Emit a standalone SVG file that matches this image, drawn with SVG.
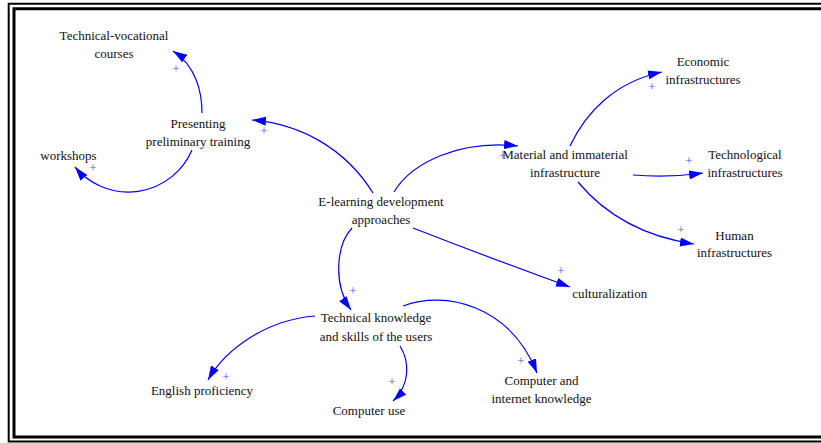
<svg xmlns="http://www.w3.org/2000/svg" width="821" height="443" viewBox="0 0 821 443">
<style>
.t{font-family:"Liberation Serif","Times New Roman",serif;font-size:13px;fill:#111;text-anchor:middle}
.p{font-family:"Liberation Serif","Times New Roman",serif;font-size:13px;fill:#4a4aff;text-anchor:middle}
.c{fill:none;stroke:#0000ff;stroke-width:1.2;marker-end:url(#ah)}
.f{fill:none;stroke:#000}
</style>
<defs>
<marker id="ah" markerUnits="userSpaceOnUse" markerWidth="15" markerHeight="10" refX="14" refY="4.5" orient="auto" viewBox="0 0 15 10">
<path d="M0,0 L14,4.5 L0,9 z" fill="#0000ff"/>
</marker>
</defs>
<rect width="821" height="443" fill="#fff"/>
<g id="frame">
<path class="f" stroke-width="2" d="M821,3.7 H8.7 V441.5 H821"/>
<path class="f" stroke-width="3" d="M821,8.7 H14 V437 H821"/>
</g>
<g id="connectors">
<path class="c" d="M202,113 C202,92 196,66 173,51"/>
<path class="c" d="M192,150 A69.3,69.3 0 0 1 75,167"/>
<path class="c" d="M373,193 C345,148 300,124 252,120"/>
<path class="c" d="M394,192 C412,162 460,140 518,146"/>
<path class="c" d="M570,146 C586,112 615,82 662,72"/>
<path class="c" d="M633,175 Q668,178 703,173"/>
<path class="c" d="M578,182 C603,212 640,236 694,244"/>
<path class="c" d="M413,228 Q490,258 570,287"/>
<path class="c" d="M352,228 C336,245 333,285 351,310"/>
<path class="c" d="M403,306 C445,290 510,305 537,373"/>
<path class="c" d="M315,316 C265,320 225,350 208,380"/>
<path class="c" d="M400,346 C410,362 410,385 393,401"/>
<text class="p" x="176" y="72.5">+</text>
<text class="p" x="93" y="171.5">+</text>
<text class="p" x="264" y="134.5">+</text>
<text class="p" x="502.7" y="159.5">+</text>
<text class="p" x="652" y="90.5">+</text>
<text class="p" x="689" y="165">+</text>
<text class="p" x="681" y="233.5">+</text>
<text class="p" x="561" y="274.5">+</text>
<text class="p" x="353" y="294.5">+</text>
<text class="p" x="521" y="365">+</text>
<text class="p" x="226" y="380.5">+</text>
<text class="p" x="392" y="385.5">+</text>
</g>
<g id="tech-vocational"><text class="t" x="114" y="39.5">Technical-vocational</text><text class="t" x="114" y="57.5">courses</text></g>
<g id="presenting"><text class="t" x="198" y="128">Presenting</text><text class="t" x="198" y="146">preliminary training</text></g>
<g id="workshops"><text class="t" x="68.5" y="159.5">workshops</text></g>
<g id="elearning"><text class="t" x="381" y="206">E-learning development</text><text class="t" x="381" y="224">approaches</text></g>
<g id="material"><text class="t" x="565" y="159">Material and immaterial</text><text class="t" x="565" y="177">infrastructure</text></g>
<g id="economic"><text class="t" x="703" y="66">Economic</text><text class="t" x="703" y="84">infrastructures</text></g>
<g id="technological"><text class="t" x="745" y="159">Technological</text><text class="t" x="745" y="177">infrastructures</text></g>
<g id="human"><text class="t" x="734.5" y="239.5">Human</text><text class="t" x="734.5" y="257">infrastructures</text></g>
<g id="culturalization"><text class="t" x="609.7" y="298">culturalization</text></g>
<g id="technical-knowledge"><text class="t" x="376" y="322">Technical knowledge</text><text class="t" x="376" y="340.5">and skills of the users</text></g>
<g id="english"><text class="t" x="202" y="395">English proficiency</text></g>
<g id="computer-use"><text class="t" x="369" y="415">Computer use</text></g>
<g id="computer-internet"><text class="t" x="541.5" y="384.5">Computer and</text><text class="t" x="541.5" y="403">internet knowledge</text></g>
</svg>
